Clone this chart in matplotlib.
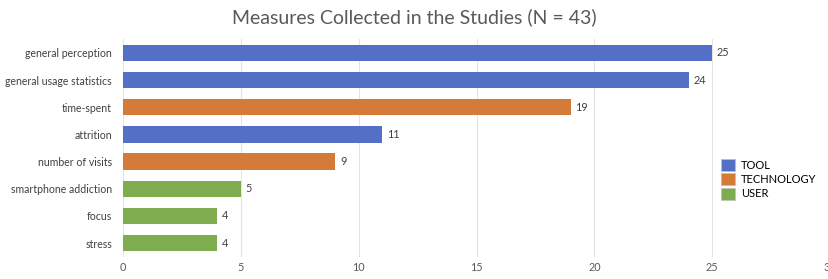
import matplotlib.pyplot as plt
from matplotlib.patches import Patch

# data, top to bottom
measures = ["general perception", "general usage statistics", "time-spent", "attrition",
            "number of visits", "smartphone addiction", "focus", "stress"]
counts = [25, 24, 19, 11, 9, 5, 4, 4]
groups = ["TOOL", "TOOL", "TECHNOLOGY", "TOOL", "TECHNOLOGY", "USER", "USER", "USER"]

colors = {"TOOL": "#5470C6", "TECHNOLOGY": "#D47B39", "USER": "#80AC50"}

plt.rcParams['font.family'] = ['Lato', 'DejaVu Sans']

fig = plt.figure(figsize=(8.29, 2.79), dpi=100)
ax = fig.add_axes([0.1484, 0.0803, 0.8530, 0.7785])

ypos = list(range(len(measures)))
bars = ax.barh(ypos, counts, height=0.6, color=[colors[g] for g in groups], zorder=3)
for y, v in zip(ypos, counts):
    ax.text(v + 0.2, y, str(v), va="center", ha="left", fontsize=7.8, color="#404040")

ax.set_yticks(ypos)
ax.set_yticklabels(measures, fontsize=7.6, color="#404040")
ax.set_ylim(len(measures) - 0.5, -0.5)
ax.set_xlim(0, 30)
ax.set_xticks(range(0, 31, 5))
ax.tick_params(axis="x", labelsize=7.8, colors="#595959", length=0, pad=4)
ax.tick_params(axis="y", length=0, pad=8)
ax.grid(axis="x", color="#E3E3E3", linewidth=0.8, zorder=0)
for s in ax.spines.values():
    s.set_visible(False)

handles = [Patch(facecolor=colors[k], edgecolor="#BFBFBF", linewidth=0.5) for k in colors]
ax.legend(handles, list(colors.keys()), loc="upper left", bbox_to_anchor=(0.839, 0.47),
          frameon=False, fontsize=8, handlelength=1.3, handleheight=1.3,
          handletextpad=0.5, labelspacing=0.2, borderaxespad=0)

fig.suptitle("Measures Collected in the Studies (N = 43)", fontsize=14, color="#595959", y=0.97)

fig.savefig("out.png", dpi=100)
